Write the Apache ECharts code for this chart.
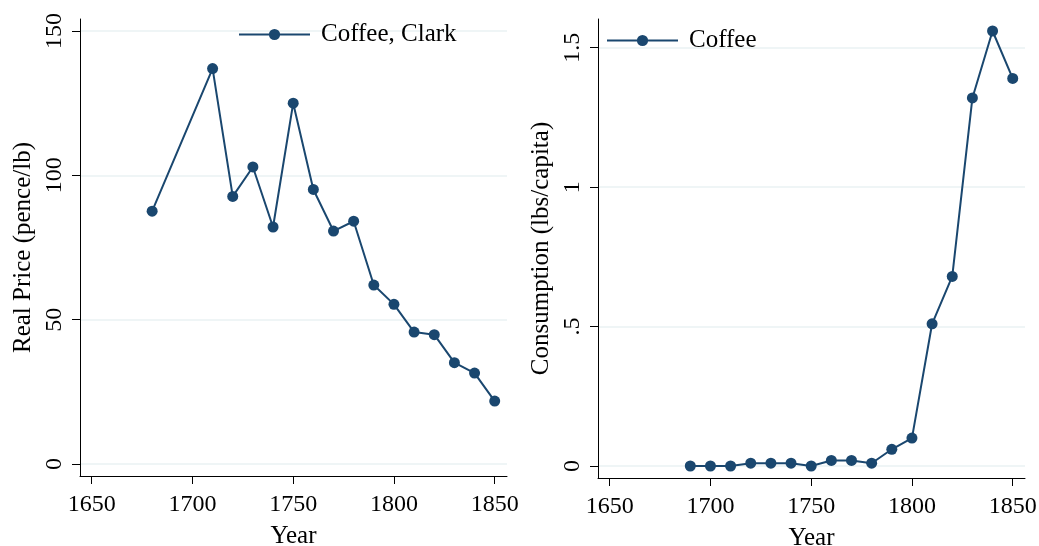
<!DOCTYPE html>
<html>
<head>
<meta charset="utf-8">
<script src="https://cdn.jsdelivr.net/npm/echarts@6/dist/echarts.min.js"></script>
<style>
  html, body { margin: 0; padding: 0; background: #fff; }
  #chart { width: 1039px; height: 546px; }
</style>
</head>
<body>
<div id="chart"></div>
<script>
// data
const priceYears = [1680, 1710, 1720, 1730, 1740, 1750, 1760, 1770, 1780, 1790, 1800, 1810, 1820, 1830, 1840, 1850]
const priceValues = [87.6, 137.0, 92.7, 102.9, 82.1, 125.0, 95.1, 80.7, 84.1, 62.0, 55.3, 45.7, 44.8, 35.1, 31.5, 21.8]
const consYears = [1690, 1700, 1710, 1720, 1730, 1740, 1750, 1760, 1770, 1780, 1790, 1800, 1810, 1820, 1830, 1840, 1850]
const consValues = [0, 0, 0, 0.01, 0.01, 0.01, 0, 0.02, 0.02, 0.01, 0.06, 0.1, 0.51, 0.68, 1.32, 1.56, 1.39]
const yearTicks = [1650, 1700, 1750, 1800, 1850]
const priceTicks = [0, 50, 100, 150]
const consTicks = [0, 0.5, 1, 1.5]

const navy = '#1a476f'
const font = 'Liberation Serif'
const chart = echarts.init(document.getElementById('chart'), null, { renderer: 'canvas' })

const xAxisBase = (gridIndex) => ({
  type: 'value',
  gridIndex,
  min: 1644.2,
  max: 1856.1,
  name: 'Year',
  nameLocation: 'middle',
  nameGap: 48,
  nameTextStyle: { fontFamily: font, fontSize: 25, color: '#000' },
  axisLine: { show: true, onZero: false, lineStyle: { color: '#000', width: 1 } },
  axisTick: { show: true, length: 8, customValues: yearTicks, lineStyle: { color: '#000' } },
  axisLabel: {
    customValues: yearTicks,
    fontFamily: font,
    fontSize: 24,
    color: '#000',
    margin: 17,
    formatter: (v) => String(v)
  },
  splitLine: { show: false }
})

const yAxisBase = (gridIndex, min, max, ticks, name, fmt) => ({
  type: 'value',
  gridIndex,
  min,
  max,
  name,
  nameLocation: 'middle',
  nameGap: 44,
  nameTextStyle: { fontFamily: font, fontSize: 25, color: '#000' },
  axisLine: { show: true, onZero: false, lineStyle: { color: '#000', width: 1 } },
  axisTick: { show: true, length: 8, customValues: ticks, lineStyle: { color: '#000' } },
  axisLabel: {
    customValues: ticks,
    rotate: 90,
    fontFamily: font,
    fontSize: 24,
    color: '#000',
    margin: 13,
    formatter: fmt
  },
  splitLine: { show: true, lineStyle: { color: '#eaf2f3', width: 1.5 } }
})

const seriesBase = {
  type: 'line',
  symbol: 'circle',
  symbolSize: 11,
  lineStyle: { color: navy, width: 2 },
  itemStyle: { color: navy },
  animation: false
}

chart.setOption({
  backgroundColor: '#fff',
  textStyle: { fontFamily: font },
  grid: [
    { left: 80, top: 19, width: 427, height: 457, outerBoundsMode: 'none' },
    { left: 598, top: 19, width: 427, height: 459, outerBoundsMode: 'none' }
  ],
  legend: [
    {
      data: ['Coffee, Clark'],
      left: 238,
      top: 22,
      padding: 0,
      itemWidth: 71,
      itemHeight: 14,
      textStyle: { fontFamily: font, fontSize: 25, color: '#000', padding: [26, 0, 0, 6] }
    },
    {
      data: ['Coffee'],
      left: 606,
      top: 28,
      padding: 0,
      itemWidth: 71,
      itemHeight: 14,
      textStyle: { fontFamily: font, fontSize: 25, color: '#000', padding: [26, 0, 0, 6] }
    }
  ],
  xAxis: [xAxisBase(0), xAxisBase(1)],
  yAxis: [
    yAxisBase(0, -4.16, 154.16, priceTicks, 'Real Price (pence/lb)', (v) => String(v)),
    yAxisBase(1, -0.043, 1.603, consTicks, 'Consumption (lbs/capita)', (v) => (v === 0 ? '0' : String(v).replace(/^0\./, '.')))
  ],
  series: [
    Object.assign({}, seriesBase, {
      name: 'Coffee, Clark',
      xAxisIndex: 0,
      yAxisIndex: 0,
      data: priceYears.map((y, i) => [y, priceValues[i]])
    }),
    Object.assign({}, seriesBase, {
      name: 'Coffee',
      xAxisIndex: 1,
      yAxisIndex: 1,
      data: consYears.map((y, i) => [y, consValues[i]])
    })
  ]
})
</script>
</body>
</html>
